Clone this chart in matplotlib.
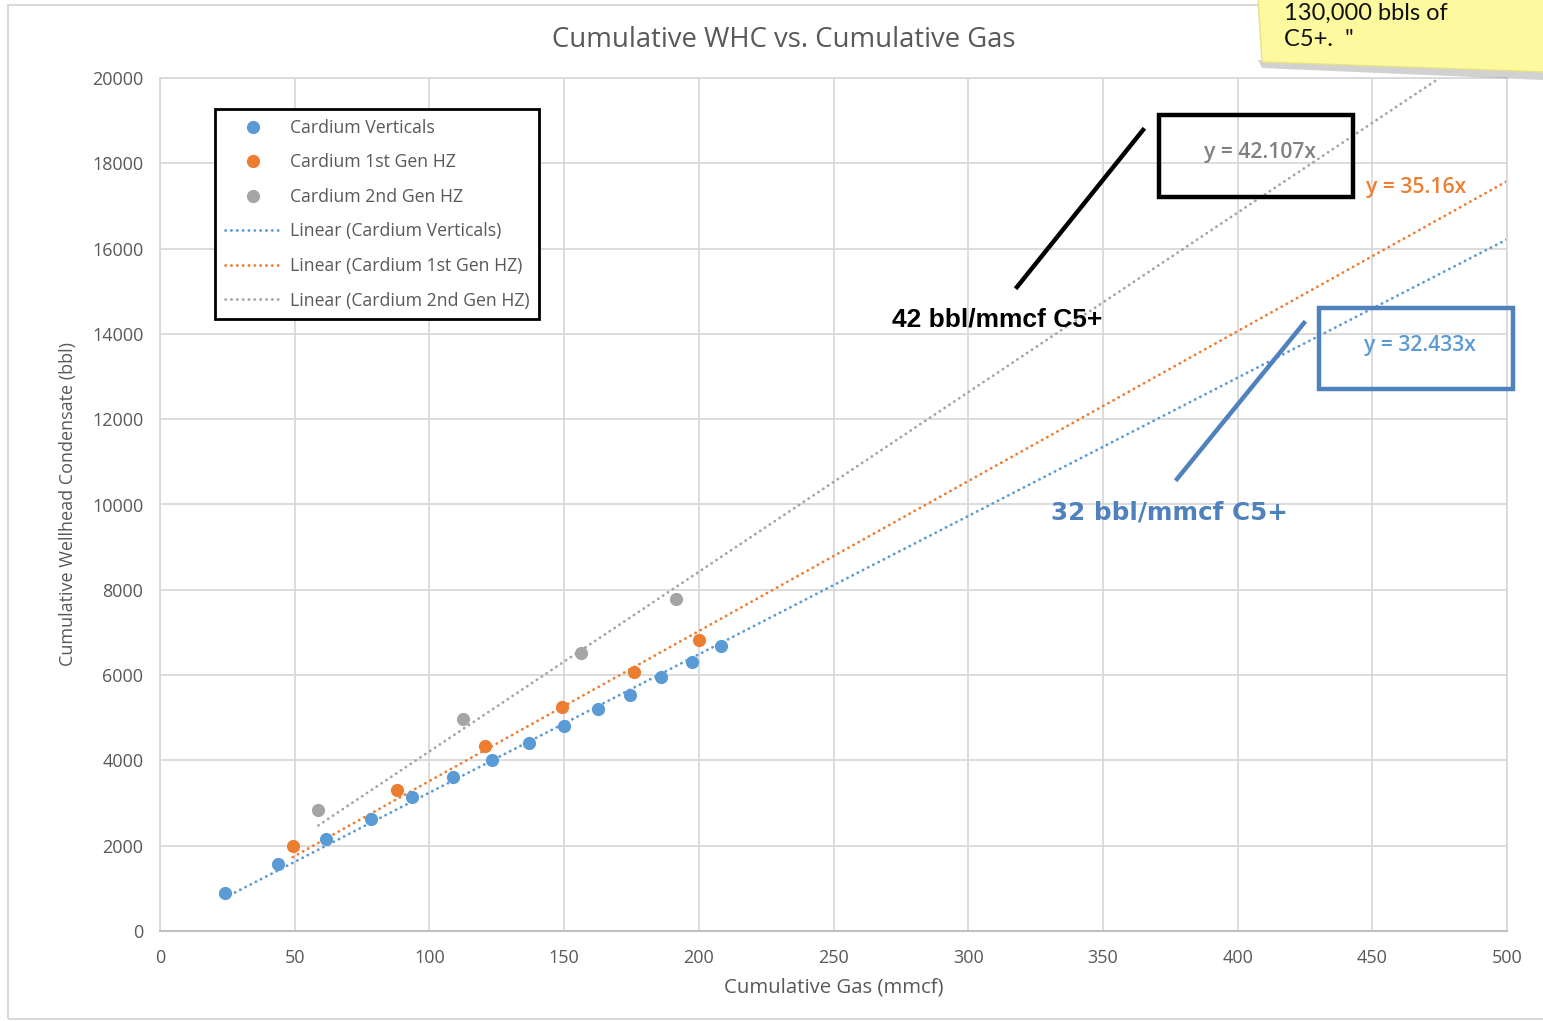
import matplotlib.pyplot as plt
import matplotlib.patches as mpatches
from matplotlib.lines import Line2D
import numpy as np

# cumulative gas (mmcf) and cumulative condensate (bbl)
vert_gas = [24.0, 43.9, 61.6, 78.3, 93.6, 108.9, 123.2, 136.9, 149.9, 162.5, 174.3, 186.1, 197.3, 208.2]
vert_cond = [884, 1564, 2150, 2633, 3142, 3611, 4002, 4408, 4800, 5198, 5540, 5948, 6307, 6682]
hz1_gas = [49.3, 87.9, 120.6, 149.4, 175.8, 200.0]
hz1_cond = [2000, 3306, 4338, 5245, 6080, 6823]
hz2_gas = [58.8, 112.5, 156.1, 191.4]
hz2_cond = [2837, 4971, 6525, 7777]

# trendline slopes (forced through origin, as in the Excel labels)
slopes = [32.433, 35.16, 42.107]
slope_labels = ['y = 32.433x', 'y = 35.16x', 'y = 42.107x']

names = ['Cardium Verticals', 'Cardium 1st Gen HZ', 'Cardium 2nd Gen HZ']
colors = ['#5b9bd5', '#ed7d31', '#a5a5a5']

W, H = 1543, 1021
fig = plt.figure(figsize=(W / 100, H / 100), dpi=100)
plt.rcParams['font.family'] = ['Open Sans', 'DejaVu Sans']
txt_grey = '#595959'


def fx(px):
    return px / W


def fy(py):
    return 1 - py / H


# outer chart frame
fig.patches.append(mpatches.Rectangle((fx(8), fy(1019)), fx(1560) - fx(8), fy(5) - fy(1019),
                                      transform=fig.transFigure, fill=False,
                                      edgecolor='#d9d9d9', lw=1.5))

ax = fig.add_axes([fx(160), fy(931), fx(1507) - fx(160), fy(78) - fy(931)])
ax.set_xlim(0, 500)
ax.set_ylim(0, 20000)
ax.set_xticks(np.arange(0, 501, 50))
ax.set_yticks(np.arange(0, 20001, 2000))
ax.grid(True, color='#d9d9d9', lw=1.3)
ax.set_axisbelow(True)
ax.tick_params(length=0, labelsize=13, labelcolor=txt_grey)
ax.tick_params(axis='y', pad=12)
ax.tick_params(axis='x', pad=13)
for s in ['top', 'right', 'left']:
    ax.spines[s].set_color('#d9d9d9')
    ax.spines[s].set_linewidth(1.3)
ax.spines['bottom'].set_color('#bfbfbf')
ax.spines['bottom'].set_linewidth(1.5)

dot_style = dict(lw=2.0, linestyle=(0, (0.1, 2.0)), dash_capstyle='round')

series = [(vert_gas, vert_cond), (hz1_gas, hz1_cond), (hz2_gas, hz2_cond)]
for (gx, cy), k, c in zip(series, slopes, colors):
    xs = np.array([min(gx), 500])
    ax.plot(xs, k * xs, color=c, zorder=2, **dot_style)
for (gx, cy), c in zip(series, colors):
    ax.plot(gx, cy, 'o', color=c, ms=9.5, mec='none', zorder=3)

ax.set_xlabel('Cumulative Gas (mmcf)', fontsize=14.7, color=txt_grey)
ax.xaxis.set_label_coords((834 - 160) / 1347, -(987 - 931) / 853)
ax.set_ylabel('Cumulative Wellhead Condensate (bbl)', fontsize=13, color=txt_grey)
ax.yaxis.set_label_coords((68 - 160) / 1347, (931 - 504) / 853)
ax.xaxis.label.set_va('center')
ax.yaxis.label.set_va('center')
fig.text(fx(784), fy(40), 'Cumulative WHC vs. Cumulative Gas', ha='center', va='center',
         fontsize=19.8, color=txt_grey)

handles = [Line2D([], [], ls='none', marker='o', ms=9.5, mec='none', color=c) for c in colors]
handles += [Line2D([], [], color=c, **dot_style) for c in colors]
labels = names + ['Linear (%s)' % n for n in names]
leg = ax.legend(handles, labels, loc='upper left', bbox_to_anchor=(fx(215), fy(109)),
                bbox_transform=fig.transFigure, borderaxespad=0, fontsize=12.7,
                labelcolor=txt_grey, handlelength=3.2, handletextpad=0.5,
                labelspacing=0.94, borderpad=0.55, fancybox=False, framealpha=1)
leg.get_frame().set_edgecolor('black')
leg.get_frame().set_linewidth(2)

# trendline equation labels
fig.text(fx(1260), fy(152), slope_labels[2], ha='center', va='center', fontsize=15.2,
         color='#808080', fontweight='semibold')
fig.text(fx(1416), fy(187), slope_labels[1], ha='center', va='center', fontsize=15.2,
         color='#ed7d31', fontweight='semibold')
fig.text(fx(1420), fy(345), slope_labels[0], ha='center', va='center', fontsize=15.2,
         color='#5b9bd5', fontweight='semibold')

# callout boxes and leader lines
fig.patches.append(mpatches.Rectangle((fx(1159), fy(197)), fx(1353) - fx(1159), fy(115) - fy(197),
                                      transform=fig.transFigure, fill=False,
                                      edgecolor='black', lw=3.2, zorder=5))
fig.lines.append(Line2D([fx(1143), fx(1017)], [fy(130), fy(287)], transform=fig.transFigure,
                        color='black', lw=3.2, zorder=5))
fig.text(fx(997), fy(319), '42 bbl/mmcf C5+', ha='center', va='center', fontsize=19,
         fontweight='bold', family='Liberation Sans', color='black')

blue_dark = '#4f81bd'
fig.patches.append(mpatches.Rectangle((fx(1319), fy(389)), fx(1513) - fx(1319), fy(308) - fy(389),
                                      transform=fig.transFigure, fill=False,
                                      edgecolor=blue_dark, lw=3.2, zorder=5))
fig.lines.append(Line2D([fx(1304), fx(1177)], [fy(323), fy(479)], transform=fig.transFigure,
                        color=blue_dark, lw=3.2, zorder=5))
fig.text(fx(1169), fy(512), '32 bbl/mmcf C5+', ha='center', va='center', fontsize=17.7,
         fontweight='bold', family='DejaVu Sans', color=blue_dark)

# sticky note in the corner
shadow = mpatches.Polygon([(fx(1258), fy(60)), (fx(1543), fy(70)), (fx(1543), fy(80)), (fx(1262), fy(68))],
                          closed=True, transform=fig.transFigure, facecolor='#9a9a9a',
                          edgecolor='none', alpha=0.45, zorder=6)
note = mpatches.Polygon([(fx(1258), fy(-2)), (fx(1545), fy(-2)), (fx(1545), fy(72)), (fx(1262), fy(62))],
                        closed=True, transform=fig.transFigure, facecolor='#fcf99e',
                        edgecolor='#e6e08a', lw=1, zorder=7)
fig.patches.append(shadow)
fig.patches.append(note)
fig.text(fx(1284), fy(20), '130,000 bbls of', ha='left', va='baseline', fontsize=17,
         color='#111111', family=['Lato', 'DejaVu Sans'], zorder=8)
fig.text(fx(1284), fy(46), 'C5+.  "', ha='left', va='baseline', fontsize=17,
         color='#111111', family=['Lato', 'DejaVu Sans'], zorder=8)

fig.savefig('out.png', dpi=100)
